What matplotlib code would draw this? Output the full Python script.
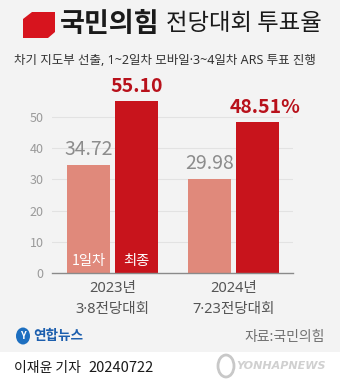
import matplotlib
matplotlib.use('Agg')
import matplotlib.pyplot as plt
from matplotlib.patches import Polygon, Rectangle, Ellipse

plt.rcParams['font.family'] = ['Noto Sans CJK KR', 'DejaVu Sans']
# narrow middle dot comes from Noto Sans, Hangul falls back to CJK
MIXED = ['Noto Sans', 'Noto Sans CJK KR']

# data
groups = ['2023년\n3·8전당대회', '2024년\n7·23전당대회']
day1 = [34.72, 29.98]
final = [55.10, 48.51]
day1_labels = ['34.72', '29.98']
final_labels = ['55.10', '48.51%']
yticks = [0, 10, 20, 30, 40, 50]

W, H = 340, 385
fig = plt.figure(figsize=(W / 100, H / 100), dpi=100)
fig.patch.set_facecolor('#f3f3f3')

def fx(px):
    return px / W

def fy(py):
    return 1 - py / H

# white footer strip
fig.patches.append(Rectangle((0, 0), 1, fy(352), transform=fig.transFigure,
                             facecolor='white', edgecolor='none', zorder=0))

# title icon
icon = [(32, 12), (55, 12), (55, 32), (48, 38), (23, 38), (23, 19)]
fig.patches.append(Polygon([(fx(x), fy(y)) for x, y in icon], closed=True,
                           transform=fig.transFigure, facecolor='#d7141e',
                           edgecolor='none'))
fig.text(fx(60), fy(24), '국민의힘', fontsize=19.5, fontweight='bold',
         color='#1a1a1a', va='center', ha='left')
fig.text(fx(166), fy(24), '전당대회 투표율', fontsize=16.8, color='#1a1a1a',
         va='center', ha='left')
fig.text(fx(14), fy(61), '차기 지도부 선출, 1~2일차 모바일·3~4일차 ARS 투표 진행',
         fontsize=9.0, color='#333333', va='center', ha='left', family=MIXED)

# axes
ax_left, ax_right = 52, 293
ax_bottom, ax_top = 273, 273 - 60 * 3.12
ax = fig.add_axes([fx(ax_left), fy(ax_bottom), fx(ax_right - ax_left),
                   (ax_bottom - ax_top) / H])
ax.set_facecolor('none')
ax.set_xlim(-0.5, 1.49)
ax.set_ylim(0, 60)

x = range(len(groups))
off, w = 0.198, 0.355
b1 = ax.bar([i - off for i in x], day1, width=w, color='#e0897b', zorder=2)
b2 = ax.bar([i + off for i in x], final, width=w, color='#c8141c', zorder=2)

for rect, lab in zip(b1, day1_labels):
    ax.annotate(lab, (rect.get_x() + rect.get_width() / 2, rect.get_height()),
                xytext=(0, 5), textcoords='offset pixels', ha='center',
                va='bottom', fontsize=14, color='#8c8c8c', fontweight='medium')
for rect, lab in zip(b2, final_labels):
    shift = 7 if lab.endswith('%') else 0
    ax.annotate(lab, (rect.get_x() + rect.get_width() / 2, rect.get_height()),
                xytext=(shift, 5), textcoords='offset pixels', ha='center',
                va='bottom', fontsize=14, color='#b8111b', fontweight='bold')

ax.text(b1[0].get_x() + w / 2, 3.8, '1일차', ha='center', va='center',
        fontsize=10.3, color='white')
ax.text(b2[0].get_x() + w / 2, 3.8, '최종', ha='center', va='center',
        fontsize=10.3, color='white')

ax.set_yticks(yticks)
ax.set_yticklabels([str(t) for t in yticks], color='#9a9a9a', fontsize=9)
ax.tick_params(axis='y', length=0, pad=6)
ax.set_xticks(list(x))
ax.set_xticklabels(groups, fontsize=10.5, color='#555555', linespacing=1.5,
                   family=MIXED)
ax.tick_params(axis='x', length=0, pad=6)
for t in yticks[1:]:
    ax.axhline(t, color='#e2e2e2', linewidth=0.8, zorder=1)
for s in ['top', 'right', 'left']:
    ax.spines[s].set_visible(False)
ax.spines['bottom'].set_color('#8a8a8a')
ax.spines['bottom'].set_linewidth(1)

# footer: logo + source
fig.patches.append(Ellipse((fx(23), fy(336)), 14 / W, 17 / H,
                           transform=fig.transFigure, facecolor='#1d6fc0',
                           edgecolor='none'))
fig.text(fx(23), fy(336), 'Y', fontsize=7, color='white', fontweight='bold',
         style='italic', ha='center', va='center')
fig.text(fx(33), fy(336), '연합뉴스', fontsize=9.8, fontweight='bold',
         color='#1d5fae', ha='left', va='center')
fig.text(fx(325), fy(337), '자료:국민의힘', fontsize=10, color='#707070',
         ha='right', va='center')

fig.text(fx(14), fy(368), '이재윤 기자', fontsize=10, color='#1a1a1a',
         fontweight='medium', ha='left', va='center')
fig.text(fx(88), fy(368), '20240722', fontsize=10.5, color='#1a1a1a',
         ha='left', va='center')

# watermark
fig.patches.append(Ellipse((fx(226), fy(366)), 16 / W, 22 / H,
                           transform=fig.transFigure, facecolor='none',
                           edgecolor='#c8c8c8', linewidth=2))
fig.text(fx(236), fy(366), 'YONHAPNEWS', fontsize=8, fontweight='bold',
         style='italic', color='#d0d0d0', ha='left', va='center',
         family='DejaVu Sans')

fig.savefig('out.png', dpi=100, facecolor=fig.get_facecolor())
